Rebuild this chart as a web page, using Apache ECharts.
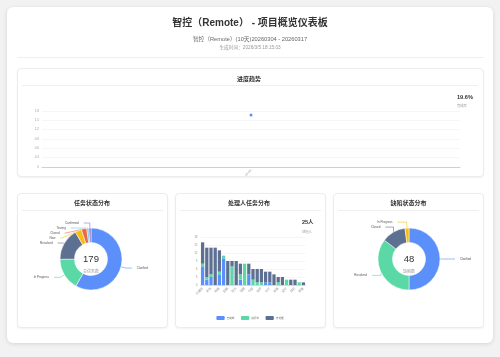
<!DOCTYPE html>
<html>
<head>
<meta charset="utf-8">
<script src="https://cdn.jsdelivr.net/npm/echarts@6/dist/echarts.min.js"></script>
<style>
  html, body { margin:0; padding:0; background:#f2f2f2; width:500px; height:357px; overflow:hidden; }
  .box { position:absolute; background:#fff; }
  .card { position:absolute; background:#fff; border:1px solid #ececec; border-radius:4px; box-sizing:border-box; box-shadow:0 1px 2px rgba(0,0,0,0.05); }
  .line { position:absolute; height:1px; background:#efefef; }
  #chart { position:absolute; left:0; top:0; width:500px; height:357px; }
</style>
</head>
<body>
<div class="box" style="left:7px;top:7px;width:486px;height:336px;border-radius:6px;box-shadow:0 1px 4px rgba(0,0,0,0.12);"></div>
<div class="line" style="left:17px;top:57px;width:467px;"></div>
<div class="card" style="left:17px;top:68px;width:467px;height:109px;"></div>
<div class="line" style="left:22px;top:85px;width:456px;"></div>
<div class="card" style="left:17px;top:193px;width:151px;height:135px;"></div>
<div class="card" style="left:175px;top:193px;width:151px;height:135px;"></div>
<div class="card" style="left:333px;top:193px;width:151px;height:135px;"></div>
<div class="line" style="left:22px;top:210px;width:141px;"></div>
<div class="line" style="left:180px;top:210px;width:141px;"></div>
<div class="line" style="left:338px;top:210px;width:141px;"></div>
<div id="chart"></div>
<script>
// ---- data ----
const trendDates = ['03-05'];
const trendValues = [1.67];
const trendTicks = { min: 0, max: 1.8, interval: 0.3 };

const people = ['王建国','李娜','张伟','刘洋','陈静','杨帆','赵敏','黄强','周杰','吴昊','徐丽','孙鹏','马超','朱琳','胡军','郭涛','何平','高峰','林晨','罗欣','梁宇','宋佳','郑凯','谢婷','韩雪'];
const doneCounts  = [7, 2, 3, 0, 4, 10, 0, 0, 0, 2, 0, 4, 0, 0, 0, 1, 1, 0, 0, 0, 0, 0, 0, 0, 0];
const doingCounts = [1, 1, 1, 0, 1, 1, 0, 7, 0, 2, 8, 0, 2, 1, 1, 0, 0, 0, 1, 0, 2, 0, 0, 1, 0];
const todoCounts  = [8, 11, 10, 14, 8, 0, 9, 2, 9, 4, 0, 4, 4, 5, 5, 4, 4, 4, 2, 3, 0, 2, 2, 0, 1];
const barTicks = { min: 0, max: 18, interval: 3 };
const barSeriesNames = ['已完成', '进行中', '待处理'];

const taskStatusNames  = ['Clarified', 'In Progress', 'Resolved', 'New', 'Closed', 'Testing', 'Confirmed'];
const taskStatusValues = [104, 30, 30, 6, 5, 2, 2];
const bugStatusNames  = ['Clarified', 'Resolved', 'Closed', 'In Progress'];
const bugStatusValues = [24, 17, 6, 1];

const totalTasks = 179;
const totalBugs = 48;
const completionRate = '19.6%';
const assigneeCount = '25人';

// ---- style ----
const palette = ['#5B8FF9', '#5AD8A6', '#5D7092', '#F6BD16', '#E8684A', '#6DC8EC', '#9270CA'];
const FONT = '"Liberation Sans", Arial, "Noto Sans CJK SC", sans-serif';

function pieData(names, values) {
  return names.map((n, i) => ({ name: n, value: values[i], itemStyle: { color: palette[i % palette.length] } }));
}
function txt(text, x, y, size, color, weight, align) {
  return { type: 'text', x: x, y: y, z: 100, silent: true,
    style: { text: text, fontSize: size, fontWeight: weight || 'normal', fontFamily: FONT, fill: color,
      align: align || 'center', verticalAlign: 'middle' } };
}

const chart = echarts.init(document.getElementById('chart'), null, { renderer: 'canvas' });
const axisLabelBase = { fontSize: 3, color: '#999', fontFamily: FONT };

const option = {
  animation: false,
  backgroundColor: 'transparent',
  textStyle: { fontFamily: FONT },
  grid: [
    { left: 42, top: 111, width: 418, height: 56, containLabel: false },
    { left: 200.5, top: 237, width: 105, height: 48, containLabel: false }
  ],
  xAxis: [
    { type: 'category', gridIndex: 0, data: trendDates, boundaryGap: true,
      axisLine: { lineStyle: { color: '#cfcfcf', width: 1 } }, axisTick: { show: false },
      axisLabel: Object.assign({ rotate: 45, margin: 3 }, axisLabelBase) },
    { type: 'category', gridIndex: 1, data: people, boundaryGap: true,
      axisLine: { lineStyle: { color: '#cfcfcf', width: 0.8 } }, axisTick: { show: false },
      axisLabel: Object.assign({ rotate: 45, margin: 3, interval: 1 }, axisLabelBase) }
  ],
  yAxis: [
    { type: 'value', gridIndex: 0, min: trendTicks.min, max: trendTicks.max, interval: trendTicks.interval,
      axisLine: { show: false }, axisTick: { show: false },
      axisLabel: Object.assign({ margin: 3 }, axisLabelBase),
      splitLine: { lineStyle: { color: '#f0f0f0', width: 0.6 } } },
    { type: 'value', gridIndex: 1, min: barTicks.min, max: barTicks.max, interval: barTicks.interval,
      axisLine: { show: false }, axisTick: { show: false },
      axisLabel: Object.assign({ margin: 3 }, axisLabelBase),
      splitLine: { lineStyle: { color: '#f0f0f0', width: 0.6 } } }
  ],
  legend: {
    data: barSeriesNames, left: 'center', top: 316, padding: 0,
    itemWidth: 8.3, itemHeight: 4, itemGap: 6.5, icon: 'roundRect',
    textStyle: { fontSize: 2.6, color: '#666', fontFamily: FONT, padding: [0, 0, 0, -3] }
  },
  series: [
    { type: 'line', name: '进度', xAxisIndex: 0, yAxisIndex: 0, data: trendValues,
      symbol: 'circle', symbolSize: 3, itemStyle: { color: '#5B8FF9' }, lineStyle: { color: '#5B8FF9', width: 1 } },
    { type: 'bar', name: barSeriesNames[0], stack: 'total', xAxisIndex: 1, yAxisIndex: 1, data: doneCounts,
      barCategoryGap: '22%', itemStyle: { color: palette[0] } },
    { type: 'bar', name: barSeriesNames[1], stack: 'total', xAxisIndex: 1, yAxisIndex: 1, data: doingCounts,
      barCategoryGap: '22%', itemStyle: { color: palette[1] } },
    { type: 'bar', name: barSeriesNames[2], stack: 'total', xAxisIndex: 1, yAxisIndex: 1, data: todoCounts,
      barCategoryGap: '22%', itemStyle: { color: palette[2] } },
    { type: 'pie', name: '任务状态', center: [91, 259], radius: [16.5, 31], startAngle: 90,
      data: pieData(taskStatusNames, taskStatusValues),
      itemStyle: { borderColor: '#fff', borderWidth: 0.5 },
      label: { fontSize: 3, color: '#555', fontFamily: FONT },
      labelLine: { length: 5, length2: 6, lineStyle: { width: 0.6 } } },
    { type: 'pie', name: '缺陷状态', center: [409, 259], radius: [16.5, 31], startAngle: 90,
      data: pieData(bugStatusNames, bugStatusValues),
      itemStyle: { borderColor: '#fff', borderWidth: 0.5 },
      label: { fontSize: 3, color: '#555', fontFamily: FONT },
      labelLine: { length: 6, length2: 9, lineStyle: { width: 0.6 } } }
  ],
  graphic: [
    txt('智控（Remote） - 项目概览仪表板', 250, 23, 10, '#333', 'bold'),
    txt('智控（Remote）(10天)20260304 - 20260317', 250, 39, 5.7, '#666'),
    txt('生成时间：2026/3/5 18:15:03', 250, 48, 4.7, '#999'),
    txt('进度趋势', 249, 79, 6, '#333', 'bold'),
    txt(completionRate, 457, 97.7, 5.6, '#333', 'bold', 'left'),
    txt('完成率', 457, 106, 3.3, '#999', 'normal', 'left'),
    txt('任务状态分布', 92, 203.5, 6, '#333', 'bold'),
    txt('处理人任务分布', 249, 203.5, 6, '#333', 'bold'),
    txt('缺陷状态分布', 408.5, 203.5, 6, '#333', 'bold'),
    txt(assigneeCount, 302, 222.7, 5.5, '#333', 'bold', 'left'),
    txt('处理人', 302, 231.7, 3.3, '#999', 'normal', 'left'),
    txt(String(totalTasks), 91, 259, 9.5, '#333', 'normal'),
    txt('总任务数', 91, 271.5, 4, '#999'),
    txt(String(totalBugs), 409, 259, 9.5, '#333', 'normal'),
    txt('缺陷数', 409, 271.5, 4, '#999')
  ]
};
chart.setOption(option);
</script>
</body>
</html>
